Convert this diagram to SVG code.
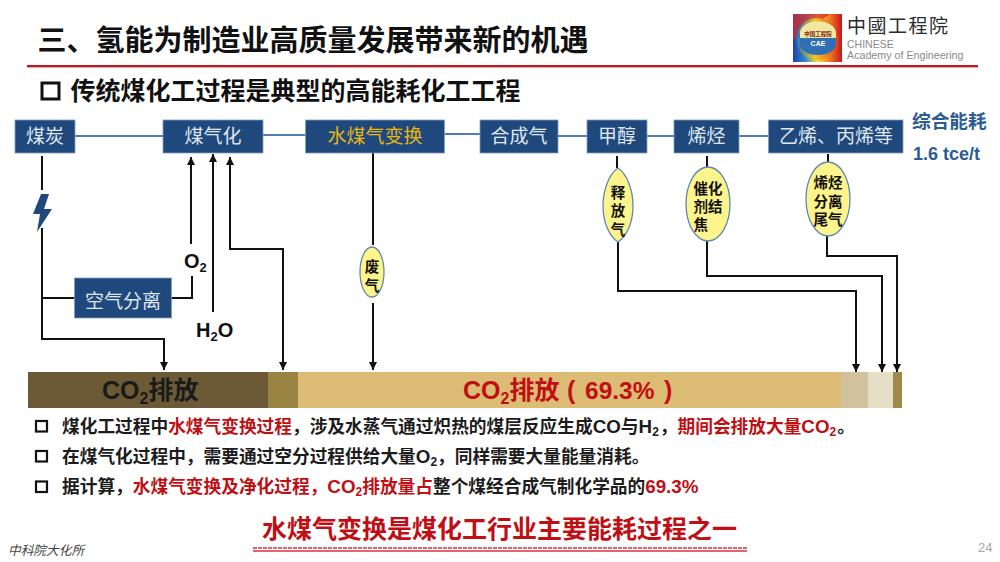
<svg xmlns="http://www.w3.org/2000/svg" width="1000" height="562" viewBox="0 0 1000 562">
<style>
text{font-family:"Liberation Sans","Noto Sans CJK SC",sans-serif}
.b{font-weight:700}
.nb{fill:#1f497d;stroke:#7f9fc4;stroke-width:.8}
.nt{fill:#dfe6ef;font-size:19px;text-anchor:middle}
.flow{stroke:#4f7cb3;stroke-width:2;fill:none}
.c{stroke:#111;stroke-width:2;fill:none}
.a{marker-end:url(#ah)}
.el{fill:#fdf48c;stroke:#5f88b5;stroke-width:1.3}
.et{font-size:14.500px;font-weight:700;fill:#111;text-anchor:middle}
.bul{fill:none;stroke:#111;stroke-width:2.2}
.body{font-size:17.7px;font-weight:700;fill:#1c1c1c}
.r{fill:#c00f14}
.lat{font-size:18.800px}
</style>
<defs>
<marker id="ah" markerUnits="userSpaceOnUse" markerWidth="9" markerHeight="9" refX="8" refY="4" orient="auto"><path d="M0 0L8 4L0 8z" fill="#111"/></marker>
<linearGradient id="rb" x1="0" y1="0" x2="1" y2="0"><stop offset="0" stop-color="#1f3fa8"/><stop offset=".25" stop-color="#2f8ccf"/><stop offset=".5" stop-color="#f6e040"/><stop offset=".75" stop-color="#ee7a1e"/><stop offset="1" stop-color="#c8141e"/></linearGradient>
<linearGradient id="ring" x1="0" y1="0" x2="1" y2="0"><stop offset="0" stop-color="#2a6ec0"/><stop offset=".45" stop-color="#f2c41e"/><stop offset="1" stop-color="#e4451e"/></linearGradient>
</defs>
<rect width="1000" height="562" fill="#fff"/>

<g id="header">
<text x="37.500" y="51" class="b" font-size="29" fill="#111">三、氢能为制造业高质量发展带来新的机遇</text>
<line x1="27" y1="66" x2="978" y2="66" stroke="#c8141e" stroke-width="2"/>
<line x1="27" y1="67.500" x2="978" y2="67.500" stroke="#bbb" stroke-width="1"/>
<rect x="42" y="83" width="17" height="16" class="bul" style="stroke-width:3"/>
<text x="70.500" y="100" class="b" font-size="25" fill="#111">传统煤化工过程是典型的高能耗化工工程</text>
</g>

<g id="logo">
<rect x="793" y="14" width="49" height="48" fill="url(#rb)"/>
<path d="M793 14H830L793 40z" fill="#d8282a" opacity=".75"/>
<ellipse cx="817" cy="39" rx="21" ry="21" fill="url(#ring)"/>
<path d="M800 38V33A17 11 0 0 1 836 33V38z" fill="#f3e6a0"/>
<path d="M800 38H836V44A18 11 0 0 1 800 44z" fill="#2f6fb5"/>
<text x="818" y="35.500" font-size="5.500" class="b" text-anchor="middle" fill="#7a1a10">中国工程院</text>
<text x="818" y="46" font-size="7" class="b" text-anchor="middle" fill="#fff">CAE</text>
<text x="847" y="33" font-size="19" letter-spacing="1.500" fill="#2c2c2c">中國工程院</text>
<text x="847" y="48" font-size="10.500" fill="#8a8a8a">CHINESE</text>
<text x="847" y="59" font-size="10.700" fill="#8a8a8a">Academy of Engineering</text>
</g>

<g id="connectors">
<path class="flow" d="M75 136H163M263 135H305M445 134H480M558 136H587M647 136H674M739 136H768"/>
<path class="c" d="M42 156V190"/>
<path class="c a" d="M42 228V339H164V370"/>
<path class="c" d="M42 298H75"/>
<path class="c" d="M171 298H192V276"/>
<path class="c a" d="M191 244V157"/>
<path class="c a" d="M213 312V154"/>
<path class="c a" d="M250 249H230V157"/>
<path class="c a" d="M250 249H283V370"/>
<path class="c" d="M373 153V245"/>
<path class="c a" d="M373 303V370"/>
<path class="c" d="M617 156V168M707 156V167M828 154V162"/>
<path class="c a" d="M618 242V291H856V372"/>
<path class="c a" d="M707 241V276H882V372"/>
<path class="c a" d="M827 236V256H897V372"/>
</g>

<g id="n-coal"><rect class="nb" x="15" y="120" width="60" height="33"/><text class="nt" x="45" y="143">煤炭</text></g>
<g id="n-gasify"><rect class="nb" x="163" y="120" width="100" height="33"/><text class="nt" x="213" y="143">煤气化</text></g>
<g id="n-shift"><rect class="nb" x="305.500" y="120" width="139" height="33"/><text class="nt" x="375" y="143" style="fill:#eab60e">水煤气变换</text></g>
<g id="n-syngas"><rect class="nb" x="480" y="120" width="78" height="33"/><text class="nt" x="519" y="143">合成气</text></g>
<g id="n-methanol"><rect class="nb" x="587" y="120" width="60" height="33"/><text class="nt" x="617" y="143">甲醇</text></g>
<g id="n-olefin"><rect class="nb" x="674" y="120" width="65" height="33"/><text class="nt" x="706.500" y="143">烯烃</text></g>
<g id="n-products"><rect class="nb" x="768.500" y="120" width="134.500" height="33"/><text class="nt" x="836" y="143">乙烯、丙烯等</text></g>
<g id="n-asu"><rect class="nb" x="74.500" y="278" width="97" height="40"/><text class="nt" x="123" y="308">空气分离</text></g>

<g id="energy-label">
<text x="912" y="128" class="b" font-size="18.700" fill="#2b5c94">综合能耗</text>
<text x="913" y="159.500" class="b" font-size="18" fill="#2b5c94">1.6 tce/t</text>
</g>

<g id="bolt"><path d="M41 194H49L44 209H52L37 232L40 214H33z" fill="#1f497d"/></g>

<g id="labels">
<text x="184" y="268" class="b" font-size="20" fill="#111">O<tspan font-size="13" dy="4">2</tspan></text>
<text x="196" y="337" class="b" font-size="20" fill="#111">H<tspan font-size="13" dy="4">2</tspan><tspan dy="-4">O</tspan></text>
</g>

<g id="n-waste"><ellipse class="el" cx="372" cy="272" rx="12" ry="25"/><text class="et" x="372" y="272">废</text><text class="et" x="372" y="291">气</text></g>
<g id="n-release"><path class="el" d="M618 168C627 174 633 190 633 206C633 222 627 236 618 242C609 236 603 222 603 206C603 190 609 174 618 168Z"/><text class="et" x="618" y="198">释</text><text class="et" x="618" y="216">放</text><text class="et" x="618" y="235">气</text></g>
<g id="n-coke"><ellipse class="el" cx="708" cy="204" rx="22" ry="37"/><text class="et" x="708" y="194">催化</text><text class="et" x="708" y="212">剂结</text><text class="et" x="693.500" y="230" style="text-anchor:start">焦</text></g>
<g id="n-tailgas"><ellipse class="el" cx="828" cy="199" rx="22" ry="37"/><text class="et" x="828" y="188">烯烃</text><text class="et" x="828" y="207">分离</text><text class="et" x="828" y="225">尾气</text></g>

<g id="bar">
<rect x="28" y="372" width="240" height="36" fill="#6b5a35"/>
<rect x="268" y="372" width="30" height="36" fill="#9a8444"/>
<rect x="298" y="372" width="543" height="36" fill="#dcbc74"/>
<rect x="841" y="372" width="27" height="36" fill="#d1c29e"/>
<rect x="868" y="372" width="25" height="36" fill="#e6dfc8"/>
<rect x="893" y="372" width="9" height="36" fill="#a08a4a"/>
<text x="102" y="399" class="b" font-size="25" fill="#1a1a1a">CO<tspan font-size="16" dy="5">2</tspan><tspan dy="-5">排放</tspan></text>
<text x="463" y="399" class="b r" font-size="25">CO<tspan font-size="16" dy="5">2</tspan><tspan dy="-5">排放</tspan><tspan x="567">(</tspan><tspan x="585" font-size="24.500">69.3%</tspan><tspan x="664">)</tspan></text>
</g>

<g id="notes">
<rect x="36" y="421" width="11" height="10.500" class="bul"/>
<rect x="36" y="451" width="11" height="10.500" class="bul"/>
<rect x="36" y="481.500" width="11" height="10.500" class="bul"/>
<text x="62" y="433" class="body">煤化工过程中<tspan class="r">水煤气变换过程</tspan>，涉及水蒸气通过炽热的煤层反应生成<tspan class="lat">CO</tspan>与<tspan class="lat">H</tspan><tspan font-size="12" dy="3">2</tspan><tspan dy="-3" dx="1">，</tspan><tspan class="r">期间会排放大量<tspan class="lat">CO</tspan><tspan font-size="12" dy="3">2</tspan></tspan><tspan dy="-3" dx="1">。</tspan></text>
<text x="62" y="463" class="body">在煤气化过程中，需要通过空分过程供给大量<tspan class="lat">O</tspan><tspan font-size="12" dy="3">2</tspan><tspan dy="-3">，同样需要大量能量消耗。</tspan></text>
<text x="62" y="493" class="body">据计算，<tspan class="r">水煤气变换及净化过程，<tspan class="lat">CO</tspan><tspan font-size="12" dy="3">2</tspan><tspan dy="-3">排放量占</tspan></tspan>整个煤经合成气制化学品的<tspan class="r lat">69.3%</tspan></text>
</g>

<g id="conclusion">
<text x="262" y="538" class="b r" font-size="25">水煤气变换是煤化工行业主要能耗过程之一</text>
<line x1="253" y1="548" x2="747" y2="548" stroke="#d8343a" stroke-width="1.500" stroke-dasharray="4 1"/>
<line x1="253" y1="551" x2="747" y2="551" stroke="#d8343a" stroke-width="1.500"/>
</g>

<g id="footer">
<text x="8" y="555" font-size="12.700" font-style="italic" fill="#444">中科院大化所</text>
<text x="978" y="552" font-size="13" fill="#a6a6a6">24</text>
</g>
</svg>
